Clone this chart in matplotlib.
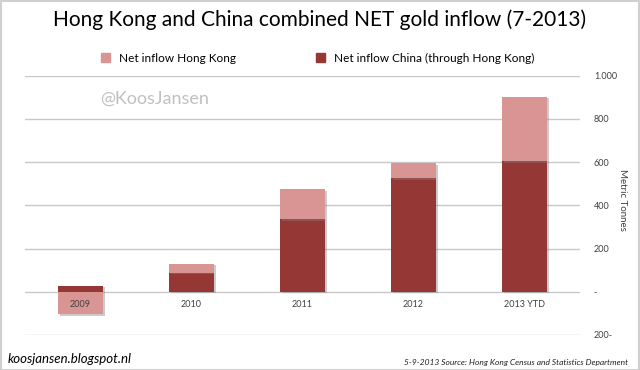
import numpy as np
import matplotlib.pyplot as plt
import matplotlib.patheffects as pe
from matplotlib.patches import Rectangle, Patch

plt.rcParams['font.family'] = ['Lato', 'DejaVu Sans']

# values (metric tonnes)
years = ['2009', '2010', '2011', '2012', '2013 YTD']
china = [28, 88, 335, 525, 603]
hong_kong = [-105, 42, 139, 70, 298]
ticks = [-200, 0, 200, 400, 600, 800, 1000]
tick_labels = ['200-', '-', '200', '400', '600', '800', '1.000']

dark = '#953735'
light = '#d99594'

fig = plt.figure(figsize=(6.4, 3.7), dpi=100)
ax = fig.add_axes([25 / 640, 1 - 335 / 370, 555 / 640, (335 - 75.7) / 370])

x = np.arange(len(years))
china = np.array(china)
hong_kong = np.array(hong_kong)
# excel stacks negatives below zero on their own
hk_bottom = np.where(hong_kong >= 0, np.maximum(china, 0), 0)

shadow = [pe.SimplePatchShadow(offset=(1.5, -1.0), shadow_rgbFace='#808080', alpha=0.4), pe.Normal()]
b1 = ax.bar(x, china, width=0.4, color=dark, zorder=2)
b2 = ax.bar(x, hong_kong, bottom=hk_bottom, width=0.4, color=light, zorder=3)
for r in list(b1) + list(b2):
    r.set_path_effects(shadow)

ax.set_xlim(-0.5, len(years) - 0.5)
ax.set_ylim(-200, 1000)
ax.set_yticks(ticks)
ax.set_yticklabels(tick_labels)
ax.yaxis.tick_right()
ax.tick_params(axis='y', length=0, pad=10, labelsize=6.5, labelcolor='#404040')
ax.yaxis.grid(True, color='#c8c8c8', lw=1)
ax.set_axisbelow(True)

ax.set_xticks(x)
ax.set_xticklabels(years)
ax.spines['bottom'].set_position(('data', 0))
ax.tick_params(axis='x', length=0, pad=6, labelsize=6.5, labelcolor='#404040')
ax.xaxis.set_zorder(5)
for s in ax.spines.values():
    s.set_visible(False)

fig.text(622 / 640, 1 - 200 / 370, 'Metric Tonnes', rotation=270, ha='center', va='center',
         fontsize=7, color='#404040')

fig.text(0.5, 1 - 20 / 370, 'Hong Kong and China combined NET gold inflow (7-2013)',
         ha='center', va='center', fontsize=15, color='black')
handles = [Patch(color=light, label='Net inflow Hong Kong'),
           Patch(color=dark, label='Net inflow China (through Hong Kong)')]
fig.legend(handles=handles, loc='center', bbox_to_anchor=(318 / 640, 1 - 58 / 370), ncol=2,
           frameon=False, fontsize=8.5, handlelength=0.7, handleheight=0.7, columnspacing=6.8, handletextpad=0.8)
fig.text(100 / 640, 1 - 99 / 370, '@KoosJansen', ha='left', va='center', fontsize=13, color='#c0c0c0')
fig.text(8 / 640, 1 - 359 / 370, 'koosjansen.blogspot.nl', ha='left', va='center', fontsize=9.5, style='italic')
fig.text(628 / 640, 1 - 362 / 370, '5-9-2013 Source: Hong Kong Census and Statistics Department',
         ha='right', va='center', fontsize=6, style='italic', color='#202020')
fig.patches.append(Rectangle((0.001, 0.001), 0.997, 0.997, transform=fig.transFigure,
                             fill=False, edgecolor='#d0d0d0', lw=1.5))

fig.savefig('out.png', dpi=100)
